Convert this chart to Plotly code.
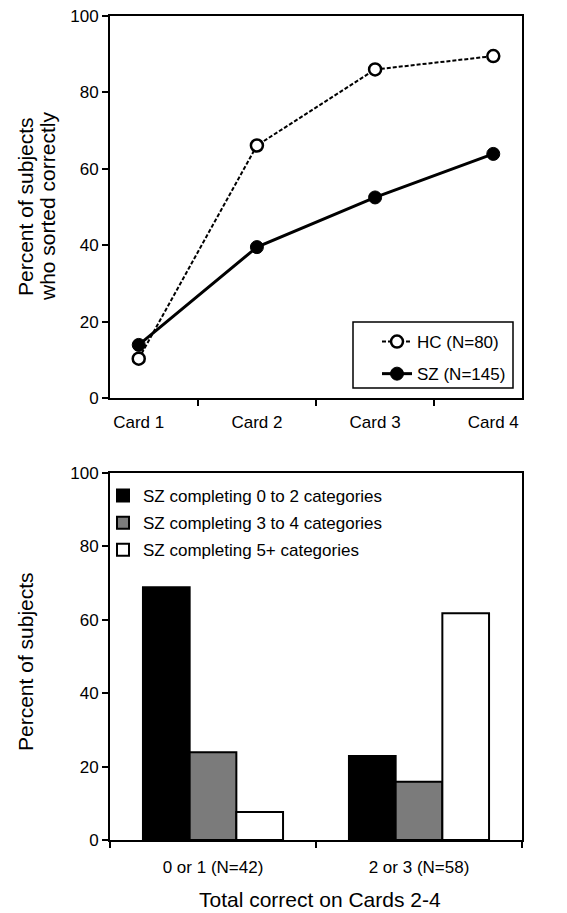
import plotly.graph_objects as go

# ---- data ----
cards = ["Card 1", "Card 2", "Card 3", "Card 4"]
hc_values = [10.3, 66.1, 86.0, 89.5]
sz_values = [13.9, 39.5, 52.5, 63.9]

groups = ["0 or 1 (N=42)", "2 or 3 (N=58)"]
sz_0_2 = [68.9, 22.9]
sz_3_4 = [23.9, 15.9]
sz_5p = [7.6, 61.8]

W, H = 567, 913
FONT = "Liberation Sans, Arial, sans-serif"

def px_x(x):
    return x / W

def px_y(y):
    return (H - y) / H

fig = go.Figure()

fig.add_trace(go.Scatter(
    x=cards, y=hc_values, name="HC (N=80)", mode="lines+markers",
    line=dict(color="black", width=2, dash="4px,2px"),
    marker=dict(symbol="circle", size=12, color="white", line=dict(color="black", width=2.5)),
    xaxis="x", yaxis="y", legend="legend", legendgroup="hc",
))
fig.add_trace(go.Scatter(
    x=cards, y=sz_values, name="SZ (N=145)", mode="lines+markers",
    line=dict(color="black", width=3),
    marker=dict(symbol="circle", size=13, color="black", line=dict(color="black", width=1)),
    xaxis="x", yaxis="y", legend="legend", legendgroup="sz",
))

bar_line = dict(color="black", width=2)
fig.add_trace(go.Bar(x=groups, y=sz_0_2, name="SZ completing 0 to 2 categories",
                     marker=dict(color="black", line=bar_line),
                     xaxis="x2", yaxis="y2", legend="legend2", legendgroup="a"))
fig.add_trace(go.Bar(x=groups, y=sz_3_4, name="SZ completing 3 to 4 categories",
                     marker=dict(color="#7b7b7b", line=bar_line),
                     xaxis="x2", yaxis="y2", legend="legend2", legendgroup="b"))
fig.add_trace(go.Bar(x=groups, y=sz_5p, name="SZ completing 5+ categories",
                     marker=dict(color="white", line=bar_line),
                     xaxis="x2", yaxis="y2", legend="legend2", legendgroup="c"))

axis_common = dict(showline=True, linecolor="black", linewidth=2, mirror=True,
                   ticks="outside", ticklen=6, tickwidth=2, tickcolor="black",
                   showgrid=False, zeroline=False, automargin=False,
                   tickfont=dict(family=FONT, size=17, color="black"))

x_dom = [px_x(110), px_x(522)]
fig.update_layout(
    width=W, height=H,
    margin=dict(l=0, r=0, t=0, b=0),
    paper_bgcolor="white", plot_bgcolor="white",
    font=dict(family=FONT, color="black"),
    barmode="group", bargap=0.32, bargroupgap=0,
    xaxis=dict(domain=x_dom, anchor="y", type="category", tickson="boundaries",
               ticklabelstandoff=8, **axis_common),
    yaxis=dict(domain=[px_y(398), px_y(16)], anchor="x", range=[0, 100], dtick=20, **axis_common),
    xaxis2=dict(domain=x_dom, anchor="y2", type="category", tickson="boundaries",
                ticklabelstandoff=11, **axis_common),
    yaxis2=dict(domain=[px_y(840), px_y(473)], anchor="x2", range=[0, 100], dtick=20, **axis_common),
    legend=dict(x=px_x(377), y=px_y(324), xanchor="left", yanchor="top",
                borderwidth=0, bgcolor="rgba(0,0,0,0)",
                font=dict(family=FONT, size=17, color="black"),
                traceorder="grouped", tracegroupgap=7),
    legend2=dict(x=px_x(103), y=px_y(478), xanchor="left", yanchor="top",
                 borderwidth=0, bgcolor="rgba(0,0,0,0)",
                 font=dict(family=FONT, size=17, color="black"),
                 traceorder="grouped", tracegroupgap=2),
    shapes=[
        dict(type="rect", xref="paper", yref="paper",
             x0=px_x(353), x1=px_x(513), y0=px_y(388), y1=px_y(322),
             line=dict(color="black", width=1.5), fillcolor="rgba(0,0,0,0)", layer="below"),
    ],
    annotations=[
        dict(text="Percent of subjects", x=px_x(25), y=px_y(207),
             xref="paper", yref="paper", showarrow=False, textangle=-90,
             xanchor="center", yanchor="middle",
             font=dict(family=FONT, size=21, color="black")),
        dict(text="who sorted correctly", x=px_x(47), y=px_y(207),
             xref="paper", yref="paper", showarrow=False, textangle=-90,
             xanchor="center", yanchor="middle",
             font=dict(family=FONT, size=21, color="black")),
        dict(text="Percent of subjects", x=px_x(25), y=px_y(662),
             xref="paper", yref="paper", showarrow=False, textangle=-90,
             xanchor="center", yanchor="middle",
             font=dict(family=FONT, size=21, color="black")),
        dict(text="Total correct on Cards 2-4", x=px_x(320), y=px_y(899),
             xref="paper", yref="paper", showarrow=False,
             xanchor="center", yanchor="middle",
             font=dict(family=FONT, size=21, color="black")),
    ],
)

fig.write_html("out.html",
               config={"displayModeBar": False},
               post_script="document.body.style.margin='0';document.body.style.overflow='hidden';")
